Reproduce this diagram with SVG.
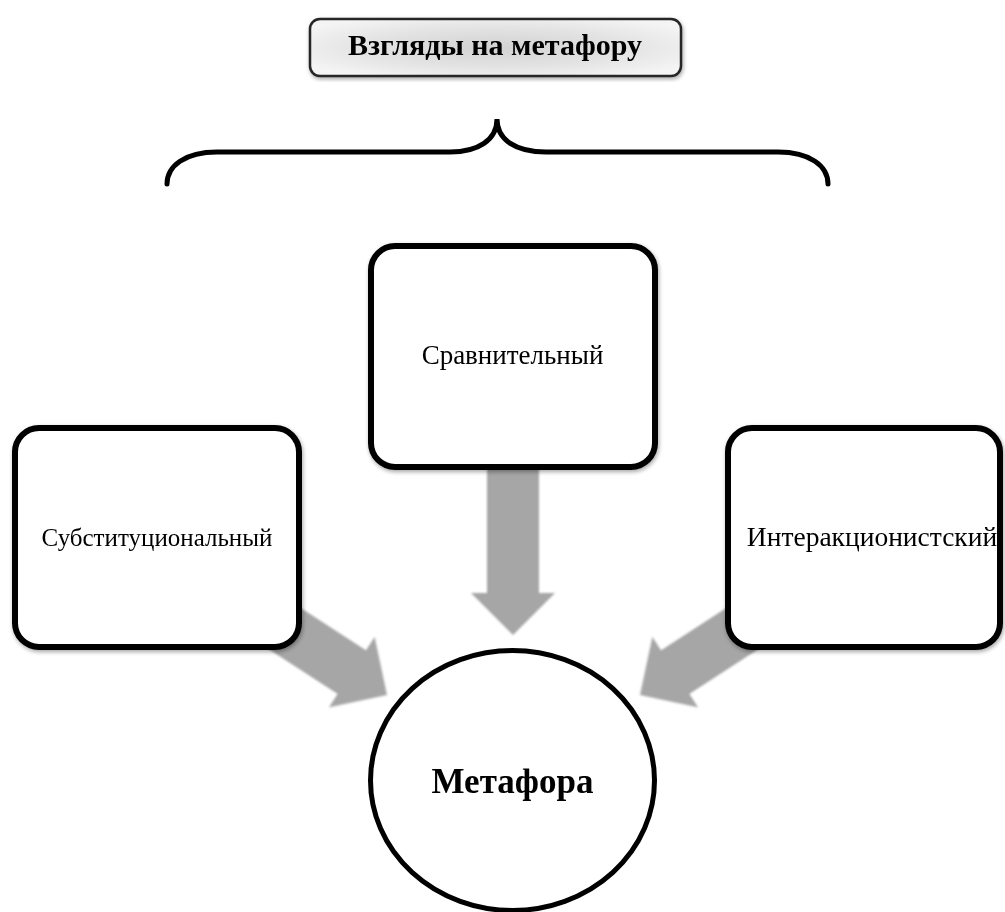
<svg xmlns="http://www.w3.org/2000/svg" width="1005" height="912" viewBox="0 0 1005 912">
<defs>
<radialGradient id="titleFill" cx="50%" cy="50%" r="60%">
<stop offset="0" stop-color="#d2d2d2"/>
<stop offset="0.6" stop-color="#e4e4e4"/>
<stop offset="1" stop-color="#f4f4f4"/>
</radialGradient>
<filter id="shadow" x="-10%" y="-10%" width="120%" height="120%">
<feGaussianBlur in="SourceAlpha" stdDeviation="2"/>
<feOffset dx="1" dy="2" result="b"/>
<feComponentTransfer><feFuncA type="linear" slope="0.35"/></feComponentTransfer>
<feMerge><feMergeNode/><feMergeNode in="SourceGraphic"/></feMerge>
</filter>
<filter id="soft" x="-10%" y="-10%" width="120%" height="120%">
<feGaussianBlur stdDeviation="1"/>
</filter>
<polygon id="bigArrow" points="-26,-170 26,-170 26,-42 42,-42 0,0 -42,-42 -26,-42"/>
</defs>
<style>
.box{fill:#ffffff;stroke:#000000;stroke-width:6}
.lbl{font-family:"Liberation Serif","Times New Roman",serif;fill:#000000;text-anchor:middle}
.arrow{fill:#a6a6a6}
</style>
<rect width="1005" height="912" fill="#ffffff"/>

<g id="connectors">
<g class="arrow" filter="url(#soft)">
<use href="#bigArrow" transform="translate(513,635)"/>
<use href="#bigArrow" transform="translate(387,695) rotate(-57)"/>
<use href="#bigArrow" transform="translate(640,695) rotate(57)"/>
</g>
<path id="brace" d="M167,184 C167,166 185,152 217,152 L450,152 C478,152 497,140 497,119 C497,140 516,152 546,152 L778,152 C810,152 828,166 828,184" fill="none" stroke="#000000" stroke-width="5" stroke-linecap="round"/>
</g>

<g id="title" filter="url(#shadow)">
<rect x="310" y="19" width="371" height="57" rx="10" fill="url(#titleFill)" stroke="#262626" stroke-width="2.5"/>
<text class="lbl" x="495" y="55" font-size="30" font-weight="bold">Взгляды на метафору</text>
</g>

<g id="node-comparative" filter="url(#shadow)">
<rect class="box" x="371" y="246" width="284" height="221" rx="24"/>
<text class="lbl" x="512.5" y="364" font-size="27">Сравнительный</text>
</g>

<g id="node-substitution" filter="url(#shadow)">
<rect class="box" x="15" y="428" width="284" height="219" rx="24"/>
<text class="lbl" x="157" y="546" font-size="25">Субституциональный</text>
</g>

<g id="node-interaction" filter="url(#shadow)">
<rect class="box" x="728" y="428" width="272" height="219" rx="24"/>
<text class="lbl" x="872" y="546" font-size="27.5">Интеракционистский</text>
</g>

<g id="node-metaphor">
<ellipse cx="512.5" cy="780.5" rx="142" ry="130" fill="#ffffff" stroke="#000000" stroke-width="5"/>
<text class="lbl" x="512.5" y="793" font-size="35" font-weight="bold">Метафора</text>
</g>
</svg>
